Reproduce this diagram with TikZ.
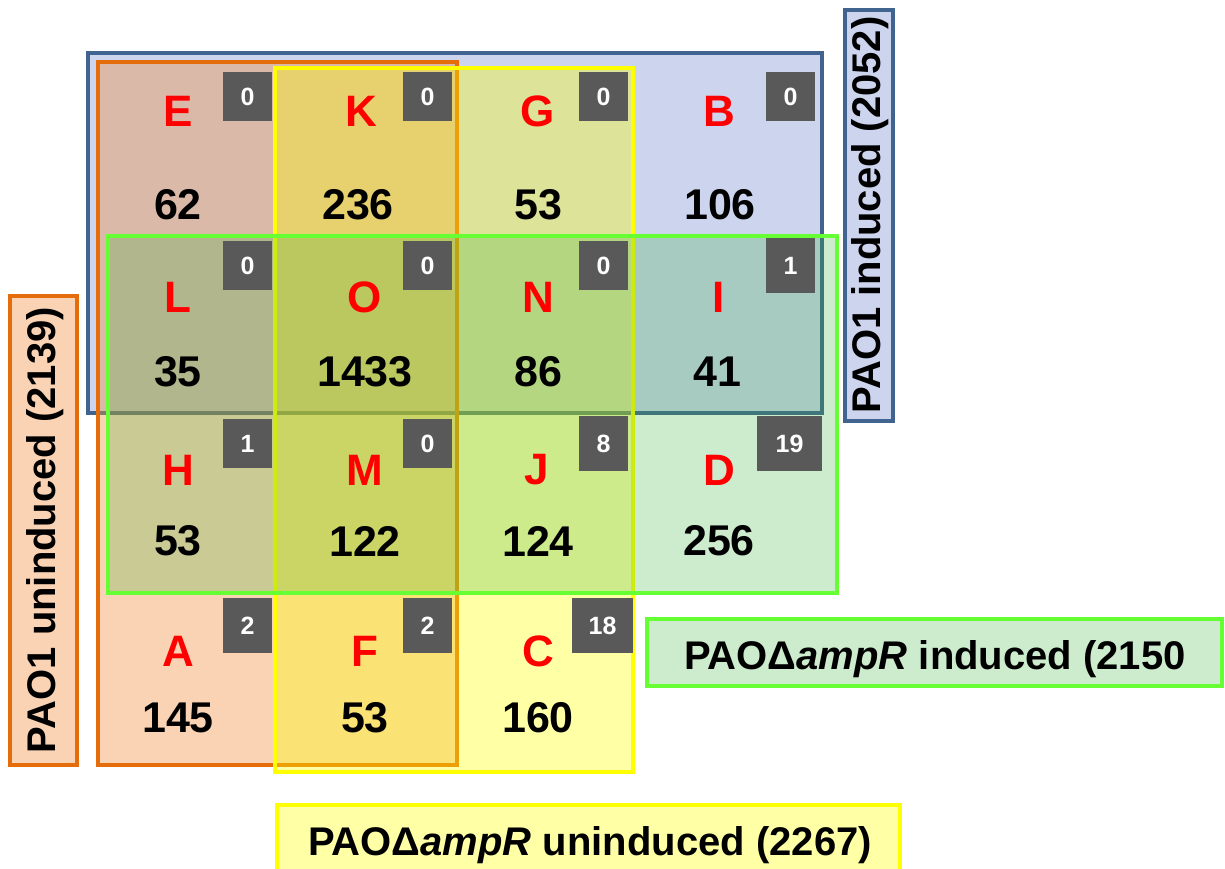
\documentclass[tikz,border=0pt]{standalone}
\usepackage{fontspec}
\setmainfont{Liberation Sans}
\definecolor{bluD}{RGB}{65,99,143}
\definecolor{bluF}{RGB}{205,213,238}
\definecolor{orD}{RGB}{228,108,10}
\definecolor{orF}{RGB}{242,145,67}
\definecolor{yeD}{RGB}{255,255,0}
\definecolor{grD}{RGB}{102,255,51}
\definecolor{grF}{RGB}{56,176,56}
\definecolor{boxG}{RGB}{89,89,89}
\definecolor{peach}{RGB}{250,211,180}
\definecolor{lgreen}{RGB}{205,235,205}
\definecolor{lyel}{RGB}{255,255,166}
\tikzset{
  setrect/.style={line width=3.5pt},
  letter/.style={text=red, font=\fontsize{44}{50}\selectfont\bfseries, inner sep=0pt},
  num/.style={text=black, font=\fontsize{43}{50}\selectfont\bfseries, inner sep=0pt},
  cnt/.style={fill=boxG, text=white, font=\fontsize{25}{28}\selectfont\bfseries, inner sep=0pt, minimum width=49pt, minimum height=49pt},
  lab/.style={text=black, font=\fontsize{40}{46}\selectfont\bfseries, inner sep=0pt},
  labbox/.style={line width=3.5pt}
}
\begin{document}
\begin{tikzpicture}[x=1pt,y=-1pt]
\useasboundingbox (0,0) rectangle (1225,869);
% set rectangles
\draw[setrect, draw=bluD, fill=bluF] (88,53) rectangle (822,413);
\draw[setrect, draw=orD, fill=orF, fill opacity=0.4] (98,62) rectangle (457,765);
\draw[setrect, draw=yeD, fill=yeD, fill opacity=0.35] (275,68) rectangle (633,772);
\draw[setrect, draw=grD, fill=grF, fill opacity=0.25] (108,236) rectangle (837,593);
% count boxes
\node[cnt] (cE) at (247.5,96.5) {0};
\node[cnt] (cK) at (427.5,96.5) {0};
\node[cnt] (cG) at (603.5,96.5) {0};
\node[cnt] (cB) at (790.5,96.5) {0};
\node[cnt] (cL) at (247.5,265.5) {0};
\node[cnt] (cO) at (427.5,265.5) {0};
\node[cnt] (cN) at (603.5,265.5) {0};
\node[cnt, minimum height=55pt] (cI) at (790.5,265.5) {1};
\node[cnt] (cH) at (247.5,443.5) {1};
\node[cnt] (cM) at (427.5,443.5) {0};
\node[cnt, minimum height=55pt] (cJ) at (603.5,443.5) {8};
\node[cnt, minimum width=65pt, minimum height=55pt] (cD) at (789.5,443.5) {19};
\node[cnt, minimum height=55pt] (cA) at (247.5,625.5) {2};
\node[cnt, minimum height=55pt] (cF) at (427.5,625.5) {2};
\node[cnt, minimum width=61pt, minimum height=55pt] (cC) at (602.5,625.5) {18};
% letters
\node[letter] (lE) at (178,111) {E};
\node[letter] (lK) at (361,111) {K};
\node[letter] (lG) at (538,111) {G};
\node[letter] (lB) at (719,111) {B};
\node[letter] (lL) at (178,297) {L};
\node[letter] (lO) at (365,297) {O};
\node[letter] (lN) at (538,297) {N};
\node[letter] (lI) at (719,297) {I};
\node[letter] (lH) at (178,470) {H};
\node[letter] (lM) at (365,470) {M};
\node[letter] (lJ) at (537,470) {J};
\node[letter] (lD) at (719,470) {D};
\node[letter] (lA) at (178,651) {A};
\node[letter] (lF) at (365,651) {F};
\node[letter] (lC) at (538,651) {C};
% numbers
\node[num] (nE) at (178,205) {62};
\node[num] (nK) at (358,205) {236};
\node[num] (nG) at (538,205) {53};
\node[num] (nB) at (720,205) {106};
\node[num] (nL) at (178,372) {35};
\node[num] (nO) at (365,372) {1433};
\node[num] (nN) at (538,372) {86};
\node[num] (nI) at (717,372) {41};
\node[num] (nH) at (178,541) {53};
\node[num] (nM) at (365,541) {122};
\node[num] (nJ) at (538,541) {124};
\node[num] (nD) at (719,541) {256};
\node[num] (nA) at (178,718) {145};
\node[num] (nF) at (365,718) {53};
\node[num] (nC) at (538,718) {160};
% labels
\draw[labbox, draw=bluD, fill=bluF] (845,10) rectangle (893,421);
\node[lab, rotate=90] (tB) at (870,215) {PAO1 induced (2052)};
\draw[labbox, draw=orD, fill=peach] (10,296) rectangle (77,765);
\node[lab, rotate=90] (tO) at (45,530) {PAO1 uninduced (2139)};
\draw[labbox, draw=grD, fill=lgreen] (647,619) rectangle (1222,686);
\node[lab, anchor=base] (tG) at (935,669) {PAOΔ\textit{ampR} induced (2150};
\draw[labbox, draw=yeD, fill=lyel] (277,805) rectangle (900,880);
\node[lab, anchor=base] (tY) at (590,855) {PAOΔ\textit{ampR} uninduced (2267)};
\end{tikzpicture}
\end{document}
